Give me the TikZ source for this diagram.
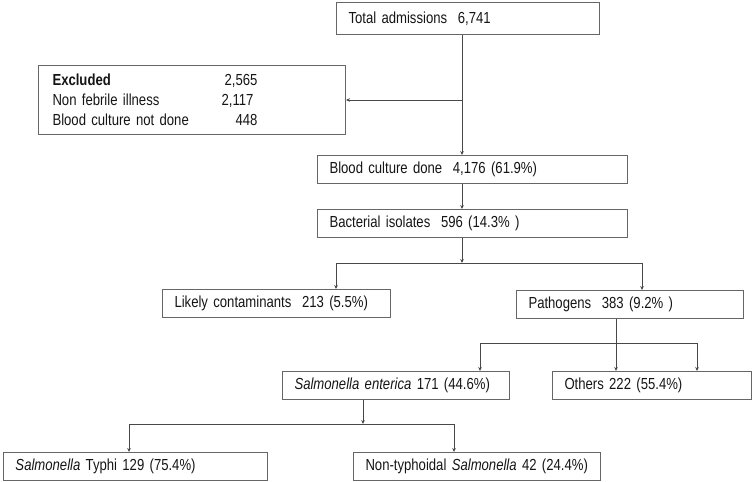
\documentclass[tikz,border=0pt]{standalone}
\usepackage{fontspec}
\setmainfont[FakeStretch=0.82]{Liberation Sans}
\usepackage{xcolor}
\usepackage{tikz}
\usetikzlibrary{arrows.meta,calc,positioning}
\definecolor{boxgray}{HTML}{666666}
\definecolor{linegray}{HTML}{484848}
\definecolor{textdark}{HTML}{151515}
\newcommand{\exclrow}[2]{\leavevmode\hbox to 205pt{#1\hfill #2}}
\tikzset{
  flowbox/.style={draw=boxgray, line width=1pt, anchor=north west, align=left, inner xsep=12pt, inner ysep=0pt, minimum height=28pt, text=textdark, font=\fontsize{16}{20}\selectfont},
  link/.style={linegray, line width=0.8pt},
  linkarrow/.style={linegray, line width=0.8pt, -{Stealth[length=4pt,width=3.6pt]}}
}
\begin{document}
\begin{tikzpicture}[x=1pt,y=-1pt]
  \useasboundingbox (0,0) rectangle (753,482);
  % boxes, placed by their top left corners
  \node[flowbox, text width=239pt, minimum height=32pt] (total) at (336,2) {Total admissions~ 6,741};
  \node[flowbox, inner xsep=14pt, text width=279pt, minimum height=69pt] (excl) at (38,65)
    {\exclrow{\textbf{Excluded}}{2,565}\\
     \exclrow{Non febrile illness}{2,117\hspace{4pt}}\\
     \exclrow{Blood culture not done}{448}};
  \node[flowbox, text width=286pt] (blood) at (317,155) {Blood culture done~ 4,176 (61.9\%)};
  \node[flowbox, text width=286pt] (bact) at (317,209) {Bacterial isolates~ 596 (14.3\% )};
  \node[flowbox, text width=204pt] (contam) at (162,289) {Likely contaminants~ 213 (5.5\%)};
  \node[flowbox, text width=203pt] (patho) at (516,290) {Pathogens~ 383 (9.2\% )};
  \node[flowbox, text width=203pt] (enter) at (282,371) {\textit{Salmonella enterica} 171 (44.6\%)};
  \node[flowbox, text width=175pt] (others) at (552,371) {Others 222 (55.4\%)};
  \node[flowbox, text width=240pt] (typhi) at (3,452) {\textit{Salmonella} Typhi 129 (75.4\%)};
  \node[flowbox, text width=223pt] (nts) at (353,452) {Non-typhoidal \textit{Salmonella} 42 (24.4\%)};
  % junctions
  \coordinate (jexcl) at (462,100);
  \coordinate (jbact) at (462,263);
  \coordinate (jpatho) at (616,343);
  \coordinate (jenter) at (363,424);
  % connectors
  \draw[linkarrow] (total.south -| jexcl) -- (blood.north -| jexcl);
  \draw[linkarrow] (jexcl) -- (excl.east |- jexcl);
  \draw[linkarrow] (blood.south -| jexcl) -- (bact.north -| jexcl);
  \draw[linkarrow] (bact.south -| jbact) -- (jbact);
  \draw[linkarrow] (jbact) -| ($(contam.north west)+(174,0)$);
  \draw[linkarrow] (jbact) -| ($(patho.north west)+(126,0)$);
  \draw[linkarrow] (patho.south -| jpatho) -- (others.north -| jpatho);
  \draw[link] ($(jpatho)+(-136,0)$) -- ($(jpatho)+(81,0)$);
  \draw[linkarrow] ($(jpatho)+(-136,0)$) -- ($(enter.north west)+(198,0)$);
  \draw[linkarrow] ($(jpatho)+(81,0)$) -- ($(others.north west)+(145,0)$);
  \draw[linkarrow] (enter.south -| jenter) -- (jenter);
  \draw[linkarrow] (jenter) -| ($(typhi.north west)+(126,0)$);
  \draw[linkarrow] (jenter) -| ($(nts.north west)+(101,0)$);
\end{tikzpicture}
\end{document}
